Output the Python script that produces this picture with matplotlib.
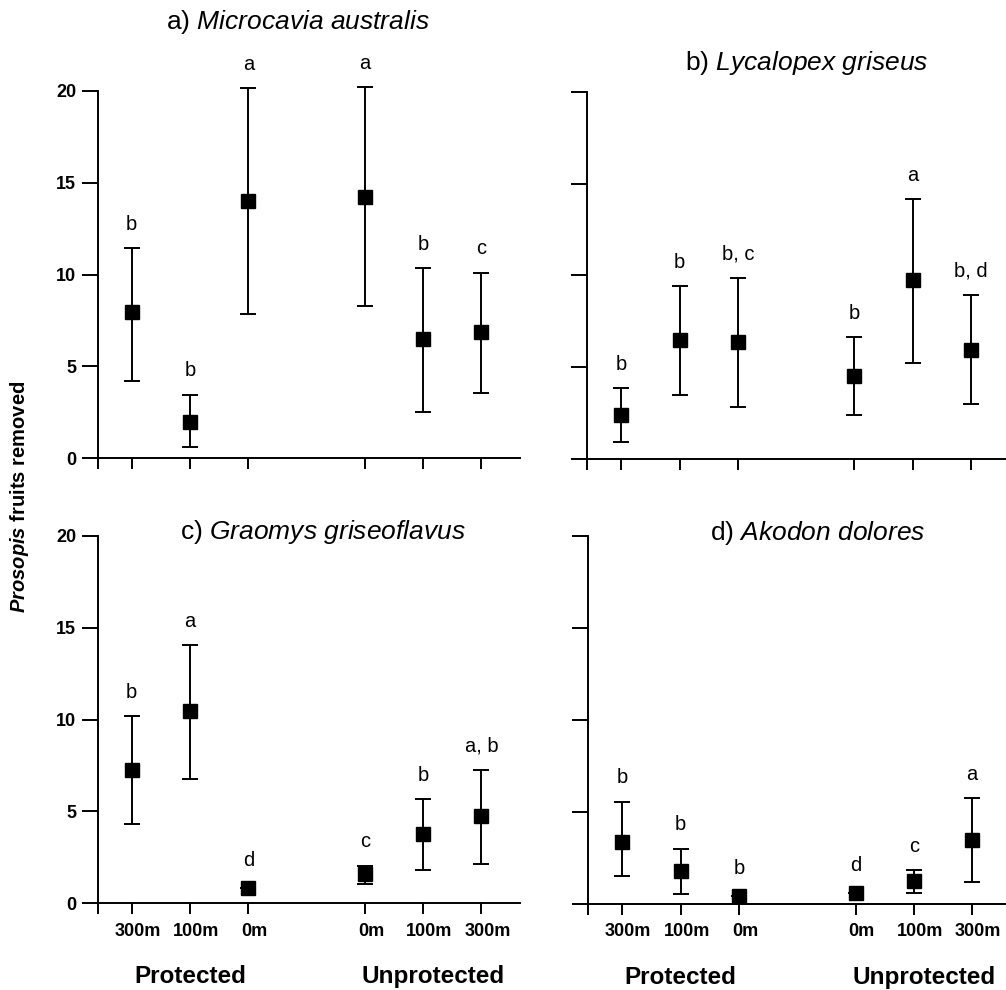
import matplotlib
matplotlib.use('Agg')
import matplotlib.pyplot as plt
import matplotlib.transforms as mtransforms
import numpy as np

plt.rcParams['font.family'] = ['Liberation Sans', 'DejaVu Sans']
plt.rcParams['mathtext.fontset'] = 'custom'
plt.rcParams['mathtext.rm'] = 'Liberation Sans'
plt.rcParams['mathtext.it'] = 'Liberation Sans:italic'
plt.rcParams['mathtext.bf'] = 'Liberation Sans:bold'
plt.rcParams['mathtext.bfit'] = 'Liberation Sans:bold:italic'

# data (means and error bar ends)
positions = [1, 2, 3, 5, 6, 7]
distances = ['300m', '100m', '0m', '0m', '100m', '300m']

titles = [r'a) $\mathit{Microcavia\ australis}$',
          r'b) $\mathit{Lycalopex\ griseus}$',
          r'c) $\mathit{Graomys\ griseoflavus}$',
          r'd) $\mathit{Akodon\ dolores}$']

mean_a = [7.95, 1.99, 14.0, 14.22, 6.47, 6.85]
low_a = [4.21, 0.63, 7.85, 8.27, 2.54, 3.54]
high_a = [11.42, 3.45, 20.13, 20.2, 10.34, 10.1]
letters_a = ['b', 'b', 'a', 'a', 'b', 'c']

mean_b = [2.4, 6.46, 6.39, 4.52, 9.75, 5.95]
low_b = [0.91, 3.47, 2.85, 2.4, 5.25, 3.01]
high_b = [3.87, 9.42, 9.84, 6.64, 14.14, 8.91]
letters_b = ['b', 'b', 'b, c', 'b', 'a', 'b, d']

mean_c = [7.24, 10.45, 0.82, 1.58, 3.76, 4.74]
low_c = [4.3, 6.75, 0.82, 1.05, 1.81, 2.16]
high_c = [10.2, 14.07, 0.82, 2.05, 5.66, 7.26]
letters_c = ['b', 'a', 'd', 'c', 'b', 'a, b']

mean_d = [3.34, 1.76, 0.44, 0.6, 1.23, 3.48]
low_d = [1.5, 0.53, 0.44, 0.6, 0.56, 1.2]
high_d = [5.55, 2.99, 0.44, 0.6, 1.83, 5.73]
letters_d = ['b', 'b', 'b', 'd', 'c', 'a']

panels = [
    (mean_a, low_a, high_a, letters_a),
    (mean_b, low_b, high_b, letters_b),
    (mean_c, low_c, high_c, letters_c),
    (mean_d, low_d, high_d, letters_d),
]

W, H = 1006, 990
fig = plt.figure(figsize=(W / 100, H / 100), dpi=100)

# axes boxes in pixels: left, right, top(y=20), bottom(y=0)
boxes = [(97.7, 520, 90.7, 458.3),
         (587.3, 1006, 91.7, 459.0),
         (97.7, 520, 536.0, 903.3),
         (588.3, 1006, 536.0, 903.7)]
unit = 58.3
title_pos = [(298, 22), (807, 63), (323, 532), (818, 533)]

for i, ((mean, low, high, letters), (l, r, t, b)) in enumerate(zip(panels, boxes)):
    ax = fig.add_axes([l / W, 1 - b / H, (r - l) / W, (b - t) / H])
    x0 = 1 - (131.7 - 97.7) / unit
    ax.set_xlim(x0, x0 + (r - l) / unit)
    ax.set_ylim(0, 20)
    mean = np.array(mean)
    yerr = [mean - np.array(low), np.array(high) - mean]
    ax.errorbar(positions, mean, yerr=yerr, fmt='s', color='black',
                markersize=10, elinewidth=1.4, capsize=6, capthick=1.4,
                clip_on=False, zorder=3)
    for xp, m, hi, lab in zip(positions, mean, high, letters):
        top = max(hi, m + 0.2)
        ax.text(xp, top + 1.3, lab, ha='center', va='center', fontsize=14.5)

    for s in ['top', 'right']:
        ax.spines[s].set_visible(False)
    for s in ['left', 'bottom']:
        ax.spines[s].set_linewidth(1.4)
    ax.set_yticks([0, 5, 10, 15, 20])
    ax.set_xticks([x0] + positions)
    ax.tick_params(axis='y', length=11.5, width=1.4, pad=4)
    ax.tick_params(axis='x', length=8, width=1.4, pad=6)

    if i % 2 == 0:
        ax.set_yticklabels(['0', '5', '10', '15', '20'], fontsize=13, fontweight='bold')
    else:
        ax.set_yticklabels([])
    if i >= 2:
        ax.set_xticklabels([''] + distances, fontsize=13, fontweight='bold')
        off = mtransforms.ScaledTranslation(6 / 100, 0, fig.dpi_scale_trans)
        for lab in ax.get_xticklabels():
            lab.set_transform(lab.get_transform() + off)
        trans = mtransforms.blended_transform_factory(ax.transData, ax.transAxes)
        ax.text(2, -0.2, 'Protected', transform=trans, ha='center', va='center',
                fontsize=17.5, fontweight='bold')
        ax.text(6.17, -0.2, 'Unprotected', transform=trans, ha='center', va='center',
                fontsize=17.5, fontweight='bold')
    else:
        ax.set_xticklabels([])

    tx, ty = title_pos[i]
    fig.text(tx / W, 1 - ty / H, titles[i], ha='center', va='center', fontsize=19)

fig.text(20 / W, 1 - 497 / H, r'$\mathbfit{Prosopis}$ fruits removed', rotation=90,
         ha='center', va='center', fontsize=14.5, fontweight='bold')

fig.savefig('out.png', dpi=100)
